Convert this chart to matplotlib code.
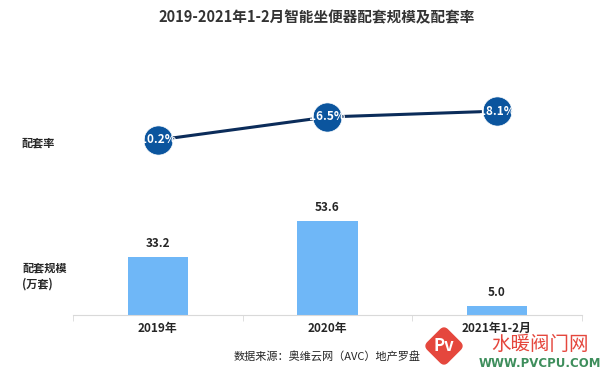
import matplotlib
matplotlib.use("Agg")
import matplotlib.pyplot as plt
from matplotlib.patches import FancyBboxPatch
import matplotlib.transforms as mtransforms

plt.rcParams['font.family'] = ['Noto Sans CJK SC', 'DejaVu Sans']

# data
years = ['2019年', '2020年', '2021年1-2月']
scale = [33.2, 53.6, 5.0]          # 配套规模 (万套)
rate = [10.2, 16.5, 18.1]          # 配套率 (%)

bar_color = '#6FB7F7'
line_color = '#0B2C5A'
dot_color = '#0B559E'
text_color = '#262626'

fig = plt.figure(figsize=(6, 3.77), dpi=100)
fig.patch.set_facecolor('white')

x = list(range(len(years)))

# bars
ax = fig.add_axes([0.1217, 0.1645, 0.848, 0.2785])
ax.bar(x, scale, width=0.355, color=bar_color, zorder=2)
for xi, v in zip(x, scale):
    ax.text(xi, v + 4, f'{v:.1f}', ha='center', va='bottom',
            fontsize=8.5, fontweight='bold', color=text_color)
ax.set_xlim(-0.5, 2.5)
ax.set_ylim(0, 60)
for s in ['top', 'right', 'left']:
    ax.spines[s].set_visible(False)
ax.spines['bottom'].set_color('#D9D9D9')
ax.set_yticks([])
ax.set_xticks([-0.5, 0.5, 1.5, 2.5], minor=True)
ax.tick_params(axis='x', which='minor', length=4, color='#D9D9D9')
ax.set_xticks(x)
ax.set_xticklabels(years, fontsize=8.5, fontweight='bold', color=text_color)
ax.tick_params(axis='x', which='major', length=0, pad=5)

# line
ax2 = fig.add_axes([0.1217, 0.530, 0.848, 0.242])
ax2.plot(x, rate, color=line_color, lw=2.2, zorder=2)
ax2.plot(x, rate, 'o', ms=21, color=dot_color, mec='white', mew=0.5, zorder=3)
for xi, v in zip(x, rate):
    ax2.text(xi, v, f'{v:.1f}%', ha='center', va='center',
             fontsize=8.5, fontweight='bold', color='white', zorder=4)
ax2.set_xlim(-0.5, 2.5)
ax2.set_ylim(0, 25)
ax2.axis('off')

# titles and side labels
fig.text(0.527, 0.953, '2019-2021年1-2月智能坐便器配套规模及配套率',
         ha='center', va='center', fontsize=10.5, fontweight='bold', color='#333333')
fig.text(0.035, 0.62, '配套率', ha='left', va='center',
         fontsize=8, fontweight='bold', color=text_color)
fig.text(0.037, 0.268, '配套规模\n(万套)', ha='left', va='center',
         fontsize=8, fontweight='bold', color=text_color, linespacing=1.3)
fig.text(0.39, 0.053, '数据来源：奥维云网（AVC）地产罗盘', ha='left', va='center',
         fontsize=8, color=text_color)

# site watermark in the lower right corner
cx, cy, side = 4.44, 0.31, 0.28
logo = FancyBboxPatch((cx - side / 2, cy - side / 2), side, side,
                      boxstyle='round,pad=0,rounding_size=0.05',
                      color='#E5473D', zorder=5)
logo.set_transform(mtransforms.Affine2D().rotate_deg_around(cx, cy, 45)
                   + fig.dpi_scale_trans)
fig.patches.append(logo)
fig.text(0.74, 0.082, 'Pv', ha='center', va='center', fontsize=12,
         fontstyle='italic', fontweight='bold', color='white', zorder=6)
fig.text(0.9, 0.087, '水暖阀门网', ha='center', va='center', fontsize=14,
         color='#E5473D', zorder=6)
fig.text(0.9, 0.036, 'WWW.PVCPU.COM', ha='center', va='center', fontsize=8.5,
         fontweight='bold', color='#3E8E5C', family='DejaVu Sans', zorder=6)

fig.savefig('out.png', dpi=100)
